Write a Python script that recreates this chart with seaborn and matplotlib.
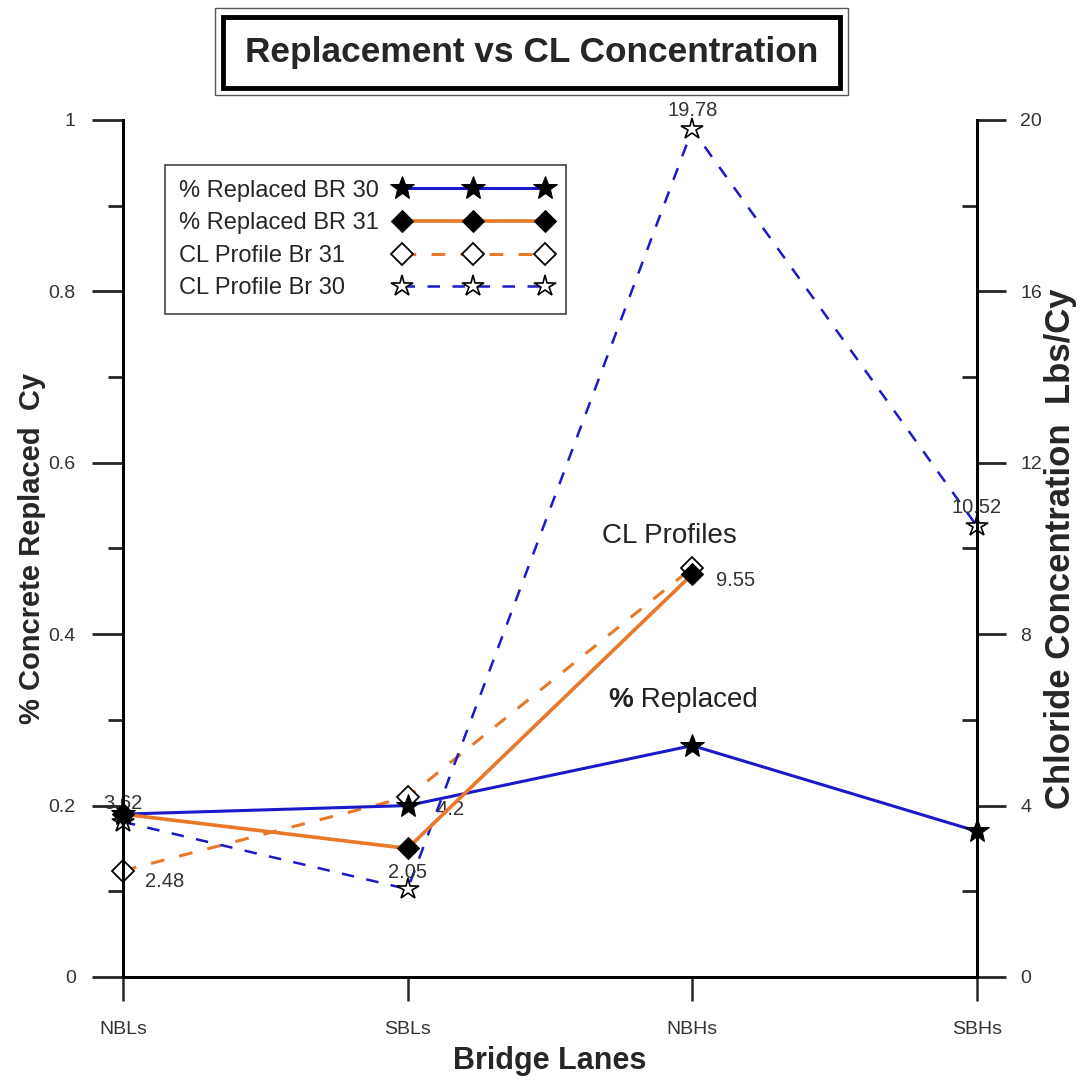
import numpy as np
import pandas as pd
import matplotlib
matplotlib.use('Agg')
import matplotlib.pyplot as plt
import seaborn as sns
from matplotlib.patches import Rectangle
from matplotlib.ticker import MultipleLocator

# Data
lanes = ['NBLs', 'SBLs', 'NBHs', 'SBHs']
replaced_br30 = [0.19, 0.20, 0.27, 0.17]
replaced_br31 = [0.19, 0.15, 0.47, np.nan]
cl_br31 = [2.48, 4.2, 9.55, np.nan]
cl_br30 = [3.62, 2.05, 19.78, 10.52]

blue = '#1a1ac8'
orange = '#e8782a'

sns.set_style("white")
plt.rcParams['font.family'] = ['Liberation Sans', 'DejaVu Sans']

df = pd.DataFrame({'x': np.arange(len(lanes)), 'r30': replaced_br30, 'r31': replaced_br31,
                   'c31': cl_br31, 'c30': cl_br30})

fig = plt.figure(figsize=(10.9, 10.8), dpi=100)
ax = fig.add_axes([0.1128, 0.0954, 0.7835, 0.7935])
ax2 = ax.twinx()

# % replaced on left axis
sns.lineplot(data=df, x='x', y='r30', ax=ax, color=blue, linewidth=2.2, marker='*',
             markersize=18, markerfacecolor='black', markeredgecolor='black',
             label='% Replaced BR 30', clip_on=False, zorder=3, legend=False)
sns.lineplot(data=df, x='x', y='r31', ax=ax, color=orange, linewidth=2.6, marker='D',
             markersize=11, markerfacecolor='black', markeredgecolor='black',
             label='% Replaced BR 31', clip_on=False, zorder=3, legend=False)

# chloride profiles on right axis
sns.lineplot(data=df, x='x', y='c31', ax=ax2, color=orange, linewidth=2.2, linestyle=(0, (4.5, 5)),
             marker='D', markersize=11, markerfacecolor='white', markeredgecolor='black',
             markeredgewidth=1.3, label='CL Profile Br 31', clip_on=False, zorder=2, legend=False)
sns.lineplot(data=df, x='x', y='c30', ax=ax2, color=blue, linewidth=1.8, linestyle=(0, (5, 5)),
             marker='*', markersize=16, markerfacecolor='white', markeredgecolor='black',
             markeredgewidth=1.2, label='CL Profile Br 30', clip_on=False, zorder=2, legend=False)

# keep % replaced lines on top
ax.set_zorder(ax2.get_zorder() + 1)
ax.patch.set_visible(False)

ax.set_xlim(0, 3)
ax.set_ylim(0, 1)
ax2.set_ylim(0, 20)

ax.set_xticks(df['x'])
ax.set_xticklabels(lanes, fontsize=14, color='#333333')
ax.set_yticks(np.arange(0, 1.01, 0.2))
ax.set_yticklabels(['0', '0.2', '0.4', '0.6', '0.8', '1'], fontsize=14, color='#333333')
ax.yaxis.set_minor_locator(MultipleLocator(0.1))
ax2.yaxis.set_major_locator(MultipleLocator(4))
ax2.yaxis.set_minor_locator(MultipleLocator(2))
ax2.tick_params(axis='y', which='major', labelsize=14, labelcolor='#333333', length=21,
                width=2, direction='out', pad=10)
ax2.tick_params(axis='y', which='minor', length=11, width=2, direction='in')
ax.tick_params(axis='y', which='major', length=22, width=2, direction='out', pad=12)
ax.tick_params(axis='y', which='minor', length=11, width=2, direction='out')
ax.tick_params(axis='x', which='major', length=17, width=1.8, direction='out', pad=15)
ax.tick_params(left=True, bottom=True, which='both')
ax2.tick_params(right=True, which='both')

for a in (ax, ax2):
    a.spines['top'].set_visible(False)
    for s in ('left', 'right', 'bottom'):
        a.spines[s].set_linewidth(2)
        a.spines[s].set_color('black')

ax.set_xlabel('Bridge Lanes', fontsize=22, fontweight='bold')
ax.xaxis.set_label_coords(0.5, -0.080)
ax.set_ylabel('% Concrete Replaced  Cy', fontsize=21, fontweight='bold')
ax.yaxis.set_label_coords(-0.090, 0.5)
ax2.set_ylabel('Chloride Concentration  Lbs/Cy', fontsize=25, fontweight='bold')
ax2.yaxis.set_label_coords(1.078, 0.5)

# data labels
lab_kw = dict(fontsize=14.5, color='#333333', va='center')
ax2.text(0, cl_br30[0] + 0.44, '3.62', ha='center', **lab_kw)
ax2.text(0.077, cl_br31[0] - 0.26, '2.48', ha='left', **lab_kw)
ax2.text(1, cl_br30[1] + 0.38, '2.05', ha='center', **lab_kw)
ax2.text(1.10, cl_br31[1] - 0.3, '4.2', ha='left', **lab_kw)
ax2.text(2, cl_br30[2] + 0.45, '19.78', ha='center', **lab_kw)
ax2.text(3, cl_br30[3] + 0.43, '10.52', ha='center', **lab_kw)
ax2.text(2.084, cl_br31[2] - 0.29, '9.55', ha='left', **lab_kw)

ax2.text(1.919, 10.3, 'CL Profiles', fontsize=20, color='#222222', ha='center', va='center')
ax2.text(1.793, 6.46, '%', fontsize=20, fontweight='bold', color='#222222', ha='right', va='center')
ax2.text(1.793, 6.46, ' Replaced', fontsize=20, color='#222222', ha='left', va='center')

# legend with all four series, text left, markers right
h1, l1 = ax.get_legend_handles_labels()
h2, l2 = ax2.get_legend_handles_labels()
leg = ax.legend(h1 + h2, l1 + l2, loc='upper left', bbox_to_anchor=(0.049, 0.947),
                markerfirst=False, numpoints=3, handlelength=6.65, fontsize=17,
                fancybox=False, framealpha=1, edgecolor='#444444', borderpad=0.6,
                labelspacing=0.45, handletextpad=0.67, borderaxespad=0)
leg.get_frame().set_linewidth(1.2)

# left-align legend labels while keeping handles in one column
fig.canvas.draw()
r = fig.canvas.get_renderer()
widths = [t.get_window_extent(r).width for t in leg.texts]
column = leg._legend_handle_box.get_children()[0]
for entry, w in zip(column.get_children(), widths):
    entry.sep += (max(widths) - w) * 72 / fig.dpi

# title box with double border
fig.patches.append(Rectangle((0.1972, 0.9120), 0.5807, 0.0806, transform=fig.transFigure,
                             fill=False, edgecolor='#555555', linewidth=1.0))
fig.patches.append(Rectangle((0.2046, 0.9185), 0.5660, 0.0657, transform=fig.transFigure,
                             fill=False, edgecolor='black', linewidth=3.5))
fig.text(0.4876, 0.9514, 'Replacement vs CL Concentration', fontsize=25.4, fontweight='bold',
         ha='center', va='center')

fig.savefig('out.png', dpi=100)
